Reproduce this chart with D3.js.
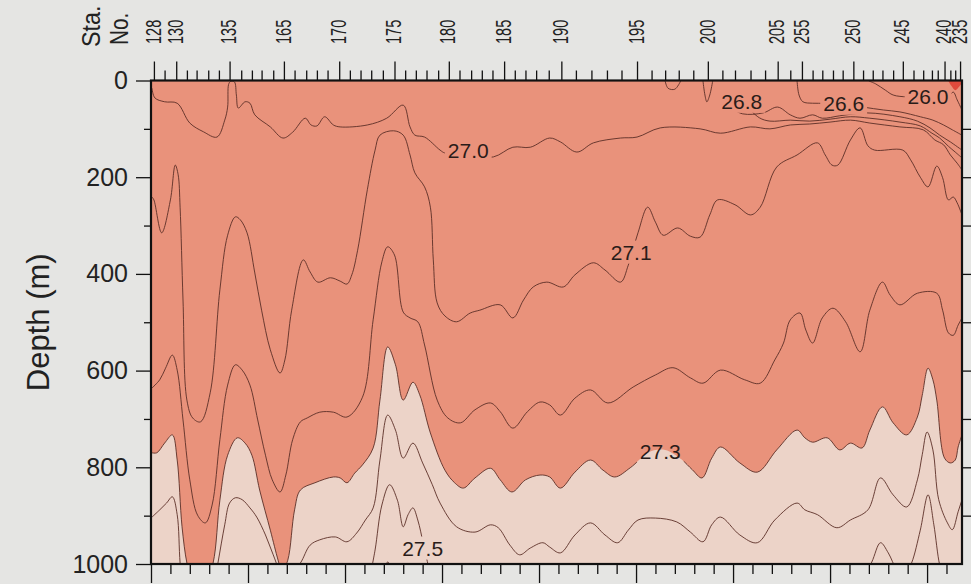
<!DOCTYPE html>
<html><head><meta charset="utf-8">
<script src="https://cdn.jsdelivr.net/npm/d3@7"></script>
<style>
body{margin:0;background:#e5e5e3;}
svg{display:block;font-family:"Liberation Sans",Arial,Helvetica,sans-serif;}
</style>
</head><body>
<svg id="chart" width="971" height="584"></svg>
<script>
// ---------- DATA ----------
// Along-track distance (km) of the labelled stations, and their numbers
const stationLabels = ["128","130","135","165","170","175","180","185","190","195","200","205","255","250","245","240","235"];
const stationKm = [3,26,81,137,194,251,307,364,423,501,574,646,671,724,775,818,834];
// unlabelled intermediate stations (km)
const minorStationKm = [14,37,47,59,70,93,104,114,126,148,160,171,182,205,216,227,239,262,273,284,296,318,330,341,352,375,386,397,410,438,454,470,485,516,530,544,559,589,602,618,633,659,682,692,703,713,734,744,754,765,786,796,805,811,824,829];
const depthTicks = [0,200,400,600,800,1000];
const sectionLengthKm = 836;
const maxDepth = 1000;

// Isopycnal depths [distance km, depth m] (sigma-theta)
const iso260 = [[740,1],[747,7],[757,20],[765,30],[780,34],[801,34],[822,32],[827,24],[831,40],[836,61]];
const iso266 = [[666,1],[668,30],[672,44],[682,47],[695,47],[714,49],[734,55],[755,61],[772,65],[793,75],[806,82],[817,92],[826,102],[836,113]];
const iso268 = [[598,57],[610,69],[631,67],[646,55],[659,71],[669,78],[682,71],[692,78],[710,73],[738,67],[772,75],[790,84],[803,98],[813,113],[824,127],[836,144]];
const iso268a = [[569,1],[571,30],[573,44],[576,30],[579,1]];
const iso268b = [[530,1],[533,16],[540,18],[546,1]];
const iso269 = [[612,49],[627,77],[638,84],[659,82],[679,84],[700,80],[721,75],[741,78],[772,86],[793,94],[805,109],[813,119],[822,136],[829,148],[836,160]];
const iso270 = [[1,16],[4,36],[14,44],[27,47],[40,88],[54,106],[68,117],[76,82],[79,55],[80,8],[82,2],[86,3],[88,30],[90,57],[97,44],[102,47],[107,71],[123,96],[136,119],[146,107],[159,78],[165,92],[171,94],[179,75],[188,92],[195,96],[223,92],[243,78],[260,51],[267,96],[272,113],[282,117],[298,144],[303,150],[327,154],[353,158],[373,138],[391,138],[411,119],[422,127],[439,148],[456,129],[484,119],[501,117],[525,98],[566,100],[587,109],[618,96],[638,100],[659,92],[679,90],[700,86],[721,82],[741,88],[772,96],[796,102],[808,123],[817,133],[824,154],[831,171],[836,185]];
const iso271 = [[1,241],[3,247],[11,315],[20,247],[25,175],[28,195],[30,262],[33,454],[37,661],[43,698],[51,706],[61,646],[71,433],[79,320],[87,282],[92,288],[99,315],[107,398],[114,475],[123,557],[133,605],[138,578],[145,475],[157,371],[164,396],[172,417],[185,408],[195,415],[202,421],[207,402],[213,351],[223,226],[231,144],[236,113],[250,104],[260,113],[267,154],[272,191],[282,220],[288,262],[291,371],[295,460],[303,487],[315,499],[329,481],[339,475],[360,464],[373,491],[384,454],[394,427],[408,417],[425,427],[437,402],[456,377],[468,392],[484,417],[492,382],[502,315],[512,262],[520,293],[528,320],[543,305],[556,322],[566,324],[576,278],[584,247],[602,257],[618,278],[628,262],[645,179],[666,154],[687,129],[695,154],[702,175],[708,175],[721,123],[731,98],[739,135],[746,144],[775,144],[783,164],[793,200],[801,220],[810,177],[816,201],[822,247],[827,241],[831,253],[836,278]];
const iso272 = [[1,636],[9,619],[15,595],[22,568],[27,599],[33,702],[40,826],[48,899],[56,915],[63,878],[71,743],[79,630],[87,588],[94,599],[102,630],[110,702],[118,775],[125,826],[133,851],[139,816],[146,743],[154,706],[161,698],[174,686],[188,686],[202,696],[218,655],[229,495],[238,375],[244,344],[251,361],[260,479],[267,491],[275,499],[282,547],[295,661],[306,698],[319,708],[334,681],[350,667],[360,685],[373,719],[388,685],[401,665],[411,671],[422,692],[437,657],[453,640],[471,667],[497,634],[520,609],[538,594],[556,615],[569,626],[587,599],[612,619],[628,626],[643,578],[652,543],[659,495],[669,481],[675,516],[682,543],[692,491],[703,471],[716,499],[731,561],[741,475],[754,417],[762,444],[772,464],[790,440],[810,440],[816,475],[822,522],[827,527],[832,506],[836,491]];
const iso273 = [[1,770],[6,770],[14,750],[22,733],[27,785],[32,923],[37,998],[43,1043],[54,1054],[64,998],[71,868],[79,775],[89,739],[97,750],[104,775],[112,847],[123,930],[131,992],[135,1017],[141,992],[148,888],[154,847],[169,832],[188,820],[195,822],[202,832],[210,812],[218,795],[229,760],[236,661],[244,551],[252,588],[260,661],[270,624],[277,650],[288,729],[303,806],[313,832],[322,843],[334,822],[350,802],[360,826],[372,851],[386,826],[401,816],[411,820],[422,843],[437,810],[453,785],[466,806],[478,820],[494,801],[514,768],[530,764],[547,784],[558,805],[568,822],[578,781],[587,758],[607,791],[625,810],[645,764],[666,723],[674,739],[682,748],[697,739],[710,764],[721,750],[733,760],[741,723],[754,675],[765,708],[779,733],[790,696],[795,651],[801,595],[806,619],[810,661],[818,781],[824,791],[829,785],[832,758],[836,733]];
const iso274 = [[1,903],[9,888],[16,874],[22,861],[27,898],[30,998],[33,1054],[48,1085],[65,1043],[69,998],[76,919],[81,874],[87,863],[94,867],[102,884],[109,903],[118,940],[126,981],[133,1012],[143,1023],[154,998],[164,961],[174,950],[190,944],[202,954],[212,936],[221,909],[229,884],[236,785],[244,692],[252,723],[260,781],[270,750],[280,791],[290,836],[298,874],[315,923],[334,934],[350,919],[358,925],[370,961],[380,981],[391,967],[404,956],[411,965],[422,977],[437,940],[453,915],[468,940],[481,956],[492,930],[502,909],[520,905],[542,913],[556,934],[569,954],[578,919],[587,903],[607,940],[625,956],[643,909],[666,874],[674,888],[687,898],[707,925],[721,909],[739,888],[752,822],[765,857],[779,882],[790,826],[795,774],[800,727],[806,764],[812,867],[821,915],[826,929],[832,892],[836,867]];
const iso275a = [[226,1023],[231,971],[238,878],[246,836],[254,868],[260,923],[265,898],[270,884],[275,909],[281,961],[288,1023]];
const iso275b = [[733,1033],[743,996],[752,956],[760,977],[769,1012],[777,1023],[784,998],[793,930],[801,857],[807,919],[813,1002],[818,1033]];
const iso276 = [[239,1012],[244,996],[249,1012]];
const surfaceCore = [[822,1],[825,11],[829,20],[833,13],[836,5]]; // lightest surface water patch

const contourLabels = [
  {text:"27.0", km:327, depth:144},
  {text:"27.1", km:495, depth:355},
  {text:"27.3", km:525, depth:768},
  {text:"27.5", km:280, depth:967},
  {text:"26.8", km:609, depth:43},
  {text:"26.6", km:714, depth:47},
  {text:"26.0", km:801, depth:34}
];

// ---------- CHART ----------
const W = 971, H = 584;
const svg = d3.select("#chart");
const x = d3.scaleLinear().domain([0, sectionLengthKm]).range([151, 962]);
const y = d3.scaleLinear().domain([0, maxDepth]).range([80.5, 564]);

const colBg = "#e5e5e3", colWarm = "#e9927b", colCold = "#ecd3c8", colLine = "#5b2f27", colCore = "#e04a3c";

svg.append("rect").attr("width", W).attr("height", H).attr("fill", colBg);

const defs = svg.append("defs");
defs.append("clipPath").attr("id", "plotclip").append("rect")
  .attr("x", x(0)).attr("y", y(0)).attr("width", x(sectionLengthKm) - x(0)).attr("height", y(maxDepth) - y(0));

const curve = d3.curveCatmullRom.alpha(0.5);
const plot = svg.append("g").attr("clip-path", "url(#plotclip)");

plot.append("rect").attr("x", x(0)).attr("y", y(0))
  .attr("width", x(sectionLengthKm) - x(0)).attr("height", y(maxDepth) - y(0)).attr("fill", colWarm);

// dense water (> 27.3) fill
plot.append("path").datum(iso273)
  .attr("d", d3.area().x(d => x(d[0])).y0(y(maxDepth + 200)).y1(d => y(d[1])).curve(curve))
  .attr("fill", colCold);

// light surface core
plot.append("path").datum(surfaceCore)
  .attr("d", d3.area().x(d => x(d[0])).y0(y(-10)).y1(d => y(d[1])).curve(curve))
  .attr("fill", colCore);

// contour labels -> mask for lines
const labelG = svg.append("g");
contourLabels.forEach(l => {
  labelG.append("text").attr("x", x(l.km)).attr("y", y(l.depth))
    .attr("text-anchor", "middle").attr("dominant-baseline", "central")
    .attr("font-size", 21).attr("fill", "#2a1c19").text(l.text);
});
const mask = defs.append("mask").attr("id", "lblmask").attr("maskUnits", "userSpaceOnUse")
  .attr("x", 0).attr("y", 0).attr("width", W).attr("height", H);
mask.append("rect").attr("width", W).attr("height", H).attr("fill", "white");
labelG.selectAll("text").each(function() {
  const b = this.getBBox();
  mask.append("rect").attr("x", b.x - 3).attr("y", b.y).attr("width", b.width + 6).attr("height", b.height).attr("fill", "black");
});

const lineGen = d3.line().x(d => x(d[0])).y(d => y(d[1])).curve(curve);
const lines = plot.append("g").attr("mask", "url(#lblmask)");
[iso260, iso266, iso268, iso268a, iso268b, iso269, iso270, iso271, iso272, iso273, iso274, iso275a, iso275b, iso276].forEach(arr => {
  lines.append("path").datum(arr).attr("d", lineGen)
    .attr("fill", "none").attr("stroke", colLine).attr("stroke-width", 0.9).attr("stroke-linejoin", "round");
});
labelG.raise();

// ---------- AXES ----------
function styleAxis(g) {
  g.select(".domain").remove();
  g.selectAll(".tick line").attr("stroke", "#111").attr("stroke-width", 1.3);
}
// left depth axis
svg.append("g").attr("transform", `translate(${x(0)},0)`)
  .call(d3.axisLeft(y).tickValues(depthTicks).tickSize(15).tickPadding(8).tickFormat(d3.format("d")))
  .call(styleAxis)
  .call(g => g.selectAll("text").attr("font-size", 25).attr("fill", "#222").attr("font-family", "Liberation Sans, Arial, sans-serif"));
svg.append("g").attr("transform", `translate(${x(0)},0)`)
  .call(d3.axisLeft(y).tickValues(d3.range(100, maxDepth, 200)).tickSize(7).tickFormat(""))
  .call(styleAxis);
// right axis
svg.append("g").attr("transform", `translate(${x(sectionLengthKm)},0)`)
  .call(d3.axisRight(y).tickValues(d3.range(100, maxDepth, 100)).tickSize(10).tickFormat(""))
  .call(styleAxis);
// bottom distance axis
svg.append("g").attr("transform", `translate(0,${y(maxDepth)})`)
  .call(d3.axisBottom(x).tickValues(d3.range(0, sectionLengthKm, 100)).tickSize(19).tickFormat(""))
  .call(styleAxis);
svg.append("g").attr("transform", `translate(0,${y(maxDepth)})`)
  .call(d3.axisBottom(x).tickValues(d3.range(20, sectionLengthKm, 20).filter(v => v % 100 !== 0)).tickSize(10).tickFormat(""))
  .call(styleAxis);
// top station axis
svg.append("g").attr("transform", `translate(0,${y(0)})`)
  .call(d3.axisTop(x).tickValues(stationKm).tickSize(19).tickFormat(""))
  .call(styleAxis);
svg.append("g").attr("transform", `translate(0,${y(0)})`)
  .call(d3.axisTop(x).tickValues(minorStationKm).tickSize(10).tickFormat(""))
  .call(styleAxis);

svg.append("g").selectAll("text").data(stationKm).join("text")
  .attr("transform", (d) => `translate(${x(d) - 1},44) rotate(-90) scale(0.66,1)`)
  .attr("text-anchor", "start").attr("dominant-baseline", "central")
  .attr("font-size", 22).attr("fill", "#222")
  .text((d, i) => stationLabels[i]);

svg.append("text").attr("transform", "translate(91,47) rotate(-90) scale(0.9,1)")
  .attr("dominant-baseline", "central").attr("font-size", 26).attr("fill", "#222").text("Sta.");
svg.append("text").attr("transform", "translate(119,45) rotate(-90) scale(0.8,1)")
  .attr("dominant-baseline", "central").attr("font-size", 26).attr("fill", "#222").text("No.");

svg.append("text").attr("transform", `translate(38,${(y(0) + y(maxDepth)) / 2}) rotate(-90)`)
  .attr("text-anchor", "middle").attr("dominant-baseline", "central")
  .attr("font-size", 31).attr("fill", "#222").text("Depth (m)");

// frame
svg.append("rect").attr("x", x(0)).attr("y", y(0))
  .attr("width", x(sectionLengthKm) - x(0)).attr("height", y(maxDepth) - y(0))
  .attr("fill", "none").attr("stroke", "#111").attr("stroke-width", 2.2);
</script>
</body></html>
